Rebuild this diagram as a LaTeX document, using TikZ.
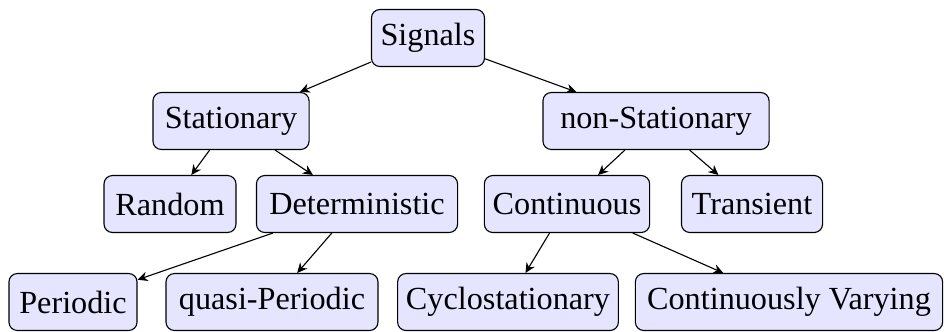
\documentclass[tikz,border=0pt]{standalone}
\usepackage{fontspec}
\setmainfont{Liberation Serif}
\usepackage{tikz}
\usetikzlibrary{arrows.meta}

\begin{document}
\begin{tikzpicture}[x=0.36pt,y=-0.36pt,>={Stealth[length=3.6pt,width=3.4pt]},
    sigbox/.style={draw, rounded corners=3pt, fill=blue!10, minimum height=20.5pt, inner sep=3pt,
      font=\fontsize{11.6}{14}\selectfont}]
      \useasboundingbox (0,0) rectangle (944,331);
      \node[sigbox, minimum width=40.7pt] (sig) at (428,38) {Signals};
      \node[sigbox, minimum width=56.2pt] (stat) at (231,121) {Stationary};
      \node[sigbox, minimum width=81.4pt] (nstat) at (656,121) {non-Stationary};
      \node[sigbox, minimum width=47.5pt] (rand) at (170,204) {Random};
      \node[sigbox, minimum width=72.4pt] (det) at (357,204) {Deterministic};
      \node[sigbox, minimum width=59.4pt] (cont) at (567,204) {Continuous};
      \node[sigbox, minimum width=50.8pt] (trans) at (752,204) {Transient};
      \node[sigbox, minimum width=46.1pt] (per) at (73,302) {Periodic};
      \node[sigbox, minimum width=76.3pt] (qper) at (272,302) {quasi-Periodic};
      \node[sigbox, minimum width=78.1pt] (cyc) at (508,302) {Cyclostationary};
      \node[sigbox, minimum width=110.6pt] (cvar) at (789,302) {Continuously Varying};
      \draw[->] (sig) -- (stat);
      \draw[->] (sig) -- (nstat);
      \draw[->] (stat) -- (rand);
      \draw[->] (stat) -- (det);
      \draw[->] (nstat) -- (cont);
      \draw[->] (nstat) -- (trans);
      \draw[->] (det) -- (per);
      \draw[->] (det) -- (qper);
      \draw[->] (cont) -- (cyc);
      \draw[->] (cont) -- (cvar);
    \end{tikzpicture}
\end{document}
